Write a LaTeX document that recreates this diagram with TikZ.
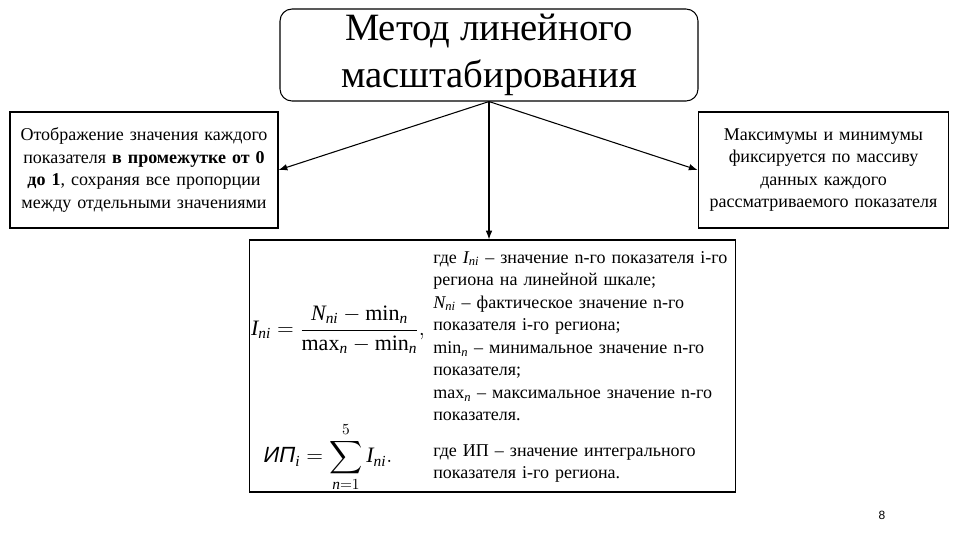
\documentclass[tikz,border=0pt]{standalone}
\usepackage{fix-cm}
\usepackage{amsmath}
\usepackage{fontspec}
\setmainfont{Liberation Serif}
\setsansfont{Liberation Sans}
\usetikzlibrary{arrows.meta}
\newcommand{\mi}[1]{\textit{#1}}
\begin{document}
\begin{tikzpicture}[x=0.75pt, y=-0.75pt, >=Latex, font=\fontsize{13.5}{16.9}\selectfont,
          blk/.style={draw, thick, align=center, inner sep=2pt},
          ttl/.style={blk, rounded corners=9pt, minimum width=313.5pt, minimum height=69pt, font=\fontsize{29}{35}\selectfont},
          side/.style={blk, minimum height=87pt},
          frml/.style={inner sep=0pt, font=\fontsize{16.5}{20}\selectfont},
          txt/.style={align=left, anchor=north west, inner sep=0pt, text width=228pt}]
        \useasboundingbox (0,0) rectangle (960,540);
        \node[ttl] (title) at (489,55) {Метод линейного\\масштабирования};
        \node[side, minimum width=201pt, text width=195pt] (left) at (144,170) {Отображение значения каждого показателя \textbf{в промежутке от 0 до 1}, сохраняя все пропорции между отдельными значениями};
        \node[side, minimum width=188pt, text width=182pt] (right) at (823.5,170) {Максимумы и минимумы фиксируется по массиву данных каждого рассматриваемого показателя};
        \node[blk, minimum width=364pt, minimum height=189pt] (calc) at (492.5,366) {};
        \node[frml] (frm) at (338,330) {$\displaystyle \mi{I}_{\mi{ni}}=\frac{\mi{N}_{\mi{ni}}-\text{min}_{\mi{n}}}{\text{max}_{\mi{n}}-\text{min}_{\mi{n}}},$};
        \node[frml] (sum) at (328,457) {$\displaystyle \textsf{\textit{ИП}}_{\mi{i}}=\sum_{\mi{n}=1}^{5} \mi{I}_{\mi{ni}}.$};
        \node[txt] (expl) at (433,251) {где $\mi{I}_{\mi{ni}}$ -- значение n-го показателя i-го региона на линейной шкале;\\$\mi{N}_{\mi{ni}}$ -- фактическое значение n-го показателя i-го региона;\\min$_{\mi{n}}$ -- минимальное значение n-го показателя;\\max$_{\mi{n}}$ -- максимальное значение n-го показателя.};
        \node[txt] (expl2) at (433,444) {где ИП -- значение интегрального показателя i-го региона.};
        \node[font=\sffamily\fontsize{9}{11}\selectfont] (page) at (882,515) {8};
        \draw[->, thick] (title.south) -- (left.east);
        \draw[->, thick] (title.south) -- (right.west);
        \draw[->, thick] (title.south) -- (title.south |- calc.north);
      \end{tikzpicture}
\end{document}
